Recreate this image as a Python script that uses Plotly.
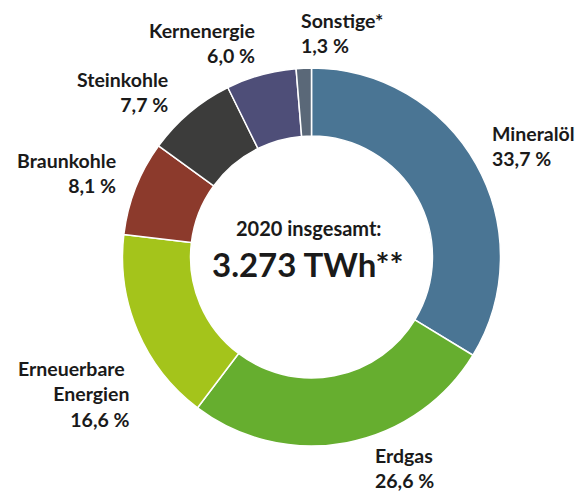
import plotly.graph_objects as go

categories = ["Mineralöl", "Erdgas", "Erneuerbare Energien", "Braunkohle", "Steinkohle", "Kernenergie", "Sonstige*"]
values = [33.7, 26.6, 16.6, 8.1, 7.7, 6.0, 1.3]
value_labels = ["33,7 %", "26,6 %", "16,6 %", "8,1 %", "7,7 %", "6,0 %", "1,3 %"]
label_lines = ["Mineralöl", "Erdgas", "Erneuerbare <br>Energien", "Braunkohle", "Steinkohle", "Kernenergie", "Sonstige*"]
colors = ["#4a7594", "#66ae2f", "#a4c41b", "#8c3a2c", "#3c3c3b", "#4e4e78", "#5a6878"]

W, H = 584, 491
L, R, T, B = 122, 83, 68, 45
PW, PH = W - L - R, H - T - B
FONT = "Lato"
TXT = "#1a1a1a"

fig = go.Figure(go.Pie(
    labels=categories, values=values, sort=False, direction="clockwise", rotation=0,
    hole=0.64, marker=dict(colors=colors, line=dict(color="white", width=1.5)),
    textinfo="none", hoverinfo="label+value", showlegend=False,
))

def px2paper(x, y):
    return (x - L) / PW, 1 - (y - T) / PH

# label placement (pixel anchor, alignment)
placements = [
    (490, 146, "left"),
    (373, 468, "left"),
    (131, 394, "right"),
    (118, 173, "right"),
    (170, 92, "right"),
    (257, 43, "right"),
    (299, 33, "left"),
]
ann = []
for i, (x, y, al) in enumerate(placements):
    xp, yp = px2paper(x, y)
    ann.append(dict(x=xp, y=yp, xref="paper", yref="paper", showarrow=False,
                    text=f"{label_lines[i]}<br>{value_labels[i]}",
                    xanchor=al, yanchor="middle", align=al,
                    font=dict(family=FONT, size=19.5, color=TXT, weight="bold")))

xc, yc = px2paper(309, 228)
ann.append(dict(x=xc, y=yc, xref="paper", yref="paper", showarrow=False,
                text="2020 insgesamt:", xanchor="center", yanchor="middle",
                font=dict(family=FONT, size=20, color=TXT, weight="bold")))
xc, yc = px2paper(308, 264)
ann.append(dict(x=xc, y=yc, xref="paper", yref="paper", showarrow=False,
                text="3.273 TWh**", xanchor="center", yanchor="middle",
                font=dict(family=FONT, size=33, color=TXT, weight="bold")))

fig.update_layout(
    width=W, height=H, margin=dict(l=L, r=R, t=T, b=B, pad=0),
    paper_bgcolor="white", plot_bgcolor="white", annotations=ann,
    font=dict(family=FONT),
)
fig.write_html("out.html", config={"displayModeBar": False},
               post_script="document.body.style.margin='0';")
